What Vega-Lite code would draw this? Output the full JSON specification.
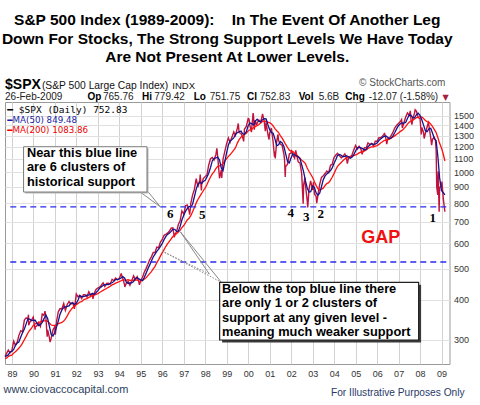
{
"$schema": "https://vega.github.io/schema/vega-lite/v6.json",
"width": 444.5,
"height": 262,
"autosize": {"type": "none"},
"padding": {"left": 5, "top": 102, "right": 30.5, "bottom": 41},
"background": "white",
"title": {"text": ["S&P 500 Index (1989-2009):\u00a0\u00a0\u00a0 In The Event Of Another Leg", "Down For Stocks, The Strong Support Levels We Have Today", "Are Not Present At Lower Levels."], "font": "Liberation Sans", "fontSize": 15.5, "fontWeight": "bold", "lineHeight": 18.5, "anchor": "middle", "frame": "group", "offset": 12, "color": "#000000"},
"config": {"view": {"stroke": "#9a9a9a", "strokeWidth": 1}, "text": {"font": "Liberation Sans"}},
"datasets": {
"px": [
{"d":"1988-09-06","c":266.5},{"d":"1988-09-30","c":271.9},{"d":"1988-10-31","c":279.0},{"d":"1988-11-30","c":273.7},{"d":"1988-12-30","c":277.7},
{"d":"1989-01-31","c":297.5},{"d":"1989-02-28","c":288.9},{"d":"1989-03-31","c":294.9},{"d":"1989-04-28","c":309.6},{"d":"1989-05-31","c":320.5},{"d":"1989-06-30","c":318.0},{"d":"1989-07-31","c":346.1},{"d":"1989-08-31","c":351.5},{"d":"1989-09-29","c":349.2},{"d":"1989-10-09","c":359.8},{"d":"1989-10-13","c":333.6},{"d":"1989-10-31","c":340.4},{"d":"1989-11-30","c":346.0},{"d":"1989-12-29","c":353.4},
{"d":"1990-01-30","c":323.0},{"d":"1990-01-31","c":329.1},{"d":"1990-02-28","c":331.9},{"d":"1990-03-30","c":339.9},{"d":"1990-04-30","c":330.8},{"d":"1990-05-31","c":361.2},{"d":"1990-06-29","c":358.0},{"d":"1990-07-16","c":368.9},{"d":"1990-07-31","c":356.2},{"d":"1990-08-23","c":307.1},{"d":"1990-08-31","c":322.6},{"d":"1990-09-28","c":306.1},{"d":"1990-10-11","c":295.5},{"d":"1990-10-31","c":304.0},{"d":"1990-11-30","c":322.2},{"d":"1990-12-31","c":330.2},
{"d":"1991-01-09","c":311.5},{"d":"1991-01-31","c":343.9},{"d":"1991-02-28","c":367.1},{"d":"1991-03-28","c":375.2},{"d":"1991-04-30","c":375.3},{"d":"1991-05-31","c":389.8},{"d":"1991-06-28","c":371.2},{"d":"1991-07-31","c":387.8},{"d":"1991-08-30","c":395.4},{"d":"1991-09-30","c":387.9},{"d":"1991-10-31","c":392.5},{"d":"1991-11-29","c":375.2},{"d":"1991-12-31","c":417.1},
{"d":"1992-01-31","c":408.8},{"d":"1992-02-28","c":412.7},{"d":"1992-03-31","c":403.7},{"d":"1992-04-30","c":415.0},{"d":"1992-05-29","c":415.4},{"d":"1992-06-30","c":408.1},{"d":"1992-07-31","c":424.2},{"d":"1992-08-31","c":414.0},{"d":"1992-09-30","c":417.8},{"d":"1992-10-09","c":402.7},{"d":"1992-10-30","c":418.7},{"d":"1992-11-30","c":431.4},{"d":"1992-12-31","c":435.7},
{"d":"1993-01-29","c":438.8},{"d":"1993-02-26","c":443.4},{"d":"1993-03-31","c":451.7},{"d":"1993-04-30","c":440.2},{"d":"1993-05-28","c":450.2},{"d":"1993-06-30","c":450.5},{"d":"1993-07-30","c":448.1},{"d":"1993-08-31","c":463.6},{"d":"1993-09-30","c":458.9},{"d":"1993-10-29","c":467.8},{"d":"1993-11-30","c":461.8},{"d":"1993-12-31","c":466.5},
{"d":"1994-01-31","c":481.6},{"d":"1994-02-02","c":482.0},{"d":"1994-02-28","c":467.1},{"d":"1994-03-31","c":445.8},{"d":"1994-04-04","c":438.9},{"d":"1994-04-29","c":450.9},{"d":"1994-05-31","c":456.5},{"d":"1994-06-30","c":444.3},{"d":"1994-07-29","c":458.3},{"d":"1994-08-31","c":475.5},{"d":"1994-09-30","c":462.7},{"d":"1994-10-31","c":472.4},{"d":"1994-11-30","c":453.7},{"d":"1994-12-08","c":445.5},{"d":"1994-12-30","c":459.3},
{"d":"1995-01-31","c":470.4},{"d":"1995-02-28","c":487.4},{"d":"1995-03-31","c":500.7},{"d":"1995-04-28","c":514.7},{"d":"1995-05-31","c":533.4},{"d":"1995-06-30","c":544.8},{"d":"1995-07-31","c":562.1},{"d":"1995-08-31","c":561.9},{"d":"1995-09-29","c":584.4},{"d":"1995-10-31","c":581.5},{"d":"1995-11-30","c":605.4},{"d":"1995-12-29","c":615.9},
{"d":"1996-01-31","c":636.0},{"d":"1996-02-29","c":640.4},{"d":"1996-03-29","c":645.5},{"d":"1996-04-30","c":654.2},{"d":"1996-05-31","c":669.1},{"d":"1996-06-28","c":670.6},{"d":"1996-07-24","c":626.7},{"d":"1996-07-31","c":639.9},{"d":"1996-08-30","c":652.0},{"d":"1996-09-30","c":687.3},{"d":"1996-10-31","c":705.3},{"d":"1996-11-29","c":757.0},{"d":"1996-12-31","c":740.7},
{"d":"1997-01-31","c":786.2},{"d":"1997-02-28","c":790.8},{"d":"1997-03-31","c":757.1},{"d":"1997-04-11","c":737.7},{"d":"1997-04-30","c":801.3},{"d":"1997-05-30","c":848.3},{"d":"1997-06-30","c":885.1},{"d":"1997-07-31","c":954.3},{"d":"1997-08-29","c":899.5},{"d":"1997-09-30","c":947.3},{"d":"1997-10-07","c":983.1},{"d":"1997-10-27","c":877.0},{"d":"1997-10-31","c":914.6},{"d":"1997-11-28","c":955.4},{"d":"1997-12-31","c":970.4},
{"d":"1998-01-30","c":980.3},{"d":"1998-02-27","c":1049.3},{"d":"1998-03-31","c":1101.8},{"d":"1998-04-30","c":1111.8},{"d":"1998-05-29","c":1090.8},{"d":"1998-06-30","c":1133.8},{"d":"1998-07-17","c":1186.8},{"d":"1998-07-31","c":1120.7},{"d":"1998-08-31","c":957.3},{"d":"1998-09-30","c":1017.0},{"d":"1998-10-08","c":959.4},{"d":"1998-10-30","c":1098.7},{"d":"1998-11-30","c":1163.6},{"d":"1998-12-31","c":1229.2},
{"d":"1999-01-29","c":1279.6},{"d":"1999-02-26","c":1238.3},{"d":"1999-03-31","c":1286.4},{"d":"1999-04-30","c":1335.2},{"d":"1999-05-28","c":1301.8},{"d":"1999-06-30","c":1372.7},{"d":"1999-07-16","c":1418.8},{"d":"1999-07-30","c":1328.7},{"d":"1999-08-31","c":1320.4},{"d":"1999-09-30","c":1282.7},{"d":"1999-10-15","c":1247.4},{"d":"1999-10-29","c":1362.9},{"d":"1999-11-30","c":1388.9},{"d":"1999-12-31","c":1469.3},
{"d":"2000-01-14","c":1465.2},{"d":"2000-01-31","c":1394.5},{"d":"2000-02-25","c":1333.4},{"d":"2000-02-29","c":1366.4},{"d":"2000-03-24","c":1527.5},{"d":"2000-03-31","c":1498.6},{"d":"2000-04-14","c":1356.6},{"d":"2000-04-28","c":1452.4},{"d":"2000-05-24","c":1399.1},{"d":"2000-05-31","c":1420.6},{"d":"2000-06-30","c":1454.6},{"d":"2000-07-31","c":1430.8},{"d":"2000-08-31","c":1517.7},{"d":"2000-09-01","c":1520.8},{"d":"2000-09-29","c":1436.5},{"d":"2000-10-18","c":1342.1},{"d":"2000-10-31","c":1429.4},{"d":"2000-11-30","c":1315.2},{"d":"2000-12-20","c":1264.7},{"d":"2000-12-29","c":1320.3},
{"d":"2001-01-30","c":1373.7},{"d":"2001-01-31","c":1366.0},{"d":"2001-02-28","c":1239.9},{"d":"2001-03-22","c":1117.6},{"d":"2001-03-30","c":1160.3},{"d":"2001-04-04","c":1103.3},{"d":"2001-04-30","c":1249.5},{"d":"2001-05-21","c":1312.8},{"d":"2001-05-31","c":1255.8},{"d":"2001-06-29","c":1224.4},{"d":"2001-07-31","c":1211.2},{"d":"2001-08-31","c":1133.6},{"d":"2001-09-10","c":1092.5},{"d":"2001-09-21","c":965.8},{"d":"2001-09-28","c":1040.9},{"d":"2001-10-31","c":1059.8},{"d":"2001-11-30","c":1139.5},{"d":"2001-12-31","c":1148.1},
{"d":"2002-01-04","c":1172.5},{"d":"2002-01-31","c":1130.2},{"d":"2002-02-28","c":1106.7},{"d":"2002-03-19","c":1170.3},{"d":"2002-03-28","c":1147.4},{"d":"2002-04-30","c":1076.9},{"d":"2002-05-31","c":1067.1},{"d":"2002-06-28","c":989.8},{"d":"2002-07-23","c":797.7},{"d":"2002-07-31","c":911.6},{"d":"2002-08-22","c":962.7},{"d":"2002-08-30","c":916.1},{"d":"2002-09-30","c":815.3},{"d":"2002-10-09","c":776.8},{"d":"2002-10-31","c":885.8},{"d":"2002-11-27","c":938.9},{"d":"2002-11-29","c":936.3},{"d":"2002-12-31","c":879.8},
{"d":"2003-01-14","c":931.7},{"d":"2003-01-31","c":855.7},{"d":"2003-02-28","c":841.2},{"d":"2003-03-11","c":800.7},{"d":"2003-03-31","c":848.2},{"d":"2003-04-30","c":916.9},{"d":"2003-05-30","c":963.6},{"d":"2003-06-30","c":974.5},{"d":"2003-07-31","c":990.3},{"d":"2003-08-29","c":1008.0},{"d":"2003-09-30","c":996.0},{"d":"2003-10-31","c":1050.7},{"d":"2003-11-28","c":1058.2},{"d":"2003-12-31","c":1111.9},
{"d":"2004-01-30","c":1131.1},{"d":"2004-02-27","c":1144.9},{"d":"2004-03-31","c":1126.2},{"d":"2004-04-30","c":1107.3},{"d":"2004-05-28","c":1120.7},{"d":"2004-06-30","c":1140.8},{"d":"2004-07-30","c":1101.7},{"d":"2004-08-12","c":1063.2},{"d":"2004-08-31","c":1104.2},{"d":"2004-09-30","c":1114.6},{"d":"2004-10-29","c":1130.2},{"d":"2004-11-30","c":1173.8},{"d":"2004-12-31","c":1211.9},
{"d":"2005-01-31","c":1181.3},{"d":"2005-02-28","c":1203.6},{"d":"2005-03-31","c":1180.6},{"d":"2005-04-20","c":1137.5},{"d":"2005-04-29","c":1156.9},{"d":"2005-05-31","c":1191.5},{"d":"2005-06-30","c":1191.3},{"d":"2005-07-29","c":1234.2},{"d":"2005-08-31","c":1220.3},{"d":"2005-09-30","c":1228.8},{"d":"2005-10-31","c":1207.0},{"d":"2005-11-30","c":1249.5},{"d":"2005-12-30","c":1248.3},
{"d":"2006-01-31","c":1280.1},{"d":"2006-02-28","c":1280.7},{"d":"2006-03-31","c":1294.8},{"d":"2006-04-28","c":1310.6},{"d":"2006-05-05","c":1325.8},{"d":"2006-05-31","c":1270.1},{"d":"2006-06-13","c":1223.7},{"d":"2006-06-30","c":1270.2},{"d":"2006-07-31","c":1276.7},{"d":"2006-08-31","c":1303.8},{"d":"2006-09-29","c":1335.9},{"d":"2006-10-31","c":1377.9},{"d":"2006-11-30","c":1400.6},{"d":"2006-12-29","c":1418.3},
{"d":"2007-01-31","c":1438.2},{"d":"2007-02-20","c":1459.7},{"d":"2007-02-28","c":1406.8},{"d":"2007-03-05","c":1374.1},{"d":"2007-03-30","c":1420.9},{"d":"2007-04-30","c":1482.4},{"d":"2007-05-31","c":1530.6},{"d":"2007-06-29","c":1503.4},{"d":"2007-07-19","c":1553.1},{"d":"2007-07-31","c":1455.3},{"d":"2007-08-15","c":1406.7},{"d":"2007-08-31","c":1474.0},{"d":"2007-09-28","c":1526.8},{"d":"2007-10-09","c":1565.2},{"d":"2007-10-31","c":1549.4},{"d":"2007-11-30","c":1481.1},{"d":"2007-12-31","c":1468.4},
{"d":"2008-01-22","c":1310.5},{"d":"2008-01-31","c":1378.6},{"d":"2008-02-29","c":1330.6},{"d":"2008-03-10","c":1273.4},{"d":"2008-03-31","c":1322.7},{"d":"2008-04-30","c":1385.6},{"d":"2008-05-19","c":1426.6},{"d":"2008-05-30","c":1400.4},{"d":"2008-06-30","c":1280.0},{"d":"2008-07-15","c":1214.9},{"d":"2008-07-31","c":1267.4},{"d":"2008-08-29","c":1282.8},{"d":"2008-09-19","c":1255.1},{"d":"2008-09-30","c":1166.4},{"d":"2008-10-10","c":899.2},{"d":"2008-10-27","c":848.9},{"d":"2008-10-31","c":968.8},{"d":"2008-11-04","c":1005.8},{"d":"2008-11-20","c":752.4},{"d":"2008-11-28","c":896.2},{"d":"2008-12-31","c":903.3},
{"d":"2009-01-06","c":934.7},{"d":"2009-01-30","c":825.9},{"d":"2009-02-26","c":752.8}
],
"ma": [
{"d":"1988-09-06","m50":266.0,"m200":262.5},{"d":"1988-09-30","m50":267.6,"m200":263.3},{"d":"1988-10-31","m50":269.5,"m200":266.5},{"d":"1988-11-30","m50":275.2,"m200":268.2},{"d":"1988-12-30","m50":276.5,"m200":269.2},
{"d":"1989-01-31","m50":280.3,"m200":273.0},{"d":"1989-02-28","m50":288.3,"m200":275.8},{"d":"1989-03-31","m50":293.4,"m200":279.1},{"d":"1989-04-28","m50":295.7,"m200":282.7},{"d":"1989-05-31","m50":306.4,"m200":287.5},{"d":"1989-06-30","m50":315.9,"m200":293.2},{"d":"1989-07-31","m50":324.8,"m200":300.6},{"d":"1989-08-31","m50":336.7,"m200":307.8},{"d":"1989-09-29","m50":349.0,"m200":315.4},{"d":"1989-10-31","m50":348.2,"m200":321.7},{"d":"1989-11-30","m50":344.9,"m200":326.5},{"d":"1989-12-29","m50":345.5,"m200":333.0},
{"d":"1990-01-31","m50":345.6,"m200":336.4},{"d":"1990-02-28","m50":338.8,"m200":338.6},{"d":"1990-03-30","m50":332.5,"m200":340.6},{"d":"1990-04-30","m50":335.0,"m200":341.8},{"d":"1990-05-31","m50":340.5,"m200":343.3},{"d":"1990-06-29","m50":349.1,"m200":344.0},{"d":"1990-07-31","m50":358.8,"m200":344.7},{"d":"1990-08-31","m50":349.9,"m200":342.9},{"d":"1990-09-28","m50":331.8,"m200":338.9},{"d":"1990-10-31","m50":311.8,"m200":334.0},{"d":"1990-11-30","m50":308.6,"m200":333.3},{"d":"1990-12-31","m50":317.0,"m200":333.1},
{"d":"1991-01-31","m50":330.1,"m200":333.5},{"d":"1991-02-28","m50":343.6,"m200":337.2},{"d":"1991-03-28","m50":360.1,"m200":338.6},{"d":"1991-04-30","m50":372.2,"m200":340.3},{"d":"1991-05-31","m50":378.3,"m200":343.6},{"d":"1991-06-28","m50":380.5,"m200":348.5},{"d":"1991-07-31","m50":381.6,"m200":356.7},{"d":"1991-08-30","m50":383.2,"m200":365.8},{"d":"1991-09-30","m50":391.0,"m200":372.4},{"d":"1991-10-31","m50":391.7,"m200":378.6},{"d":"1991-11-29","m50":387.2,"m200":381.7},{"d":"1991-12-31","m50":390.4,"m200":386.7},
{"d":"1992-01-31","m50":399.7,"m200":390.1},{"d":"1992-02-28","m50":412.7,"m200":393.8},{"d":"1992-03-31","m50":409.4,"m200":395.2},{"d":"1992-04-30","m50":409.4,"m200":399.6},{"d":"1992-05-29","m50":410.8,"m200":402.4},{"d":"1992-06-30","m50":413.7,"m200":403.6},{"d":"1992-07-31","m50":414.2,"m200":407.3},{"d":"1992-08-31","m50":416.0,"m200":409.4},{"d":"1992-09-30","m50":418.6,"m200":413.7},{"d":"1992-10-30","m50":416.6,"m200":413.8},{"d":"1992-11-30","m50":421.0,"m200":416.1},{"d":"1992-12-31","m50":427.5,"m200":418.4},
{"d":"1993-01-29","m50":434.8,"m200":421.9},{"d":"1993-02-26","m50":438.6,"m200":424.8},{"d":"1993-03-31","m50":443.4,"m200":428.4},{"d":"1993-04-30","m50":446.2,"m200":431.6},{"d":"1993-05-28","m50":446.6,"m200":434.2},{"d":"1993-06-30","m50":446.5,"m200":437.8},{"d":"1993-07-30","m50":449.9,"m200":440.9},{"d":"1993-08-31","m50":452.3,"m200":445.4},{"d":"1993-09-30","m50":456.8,"m200":448.1},{"d":"1993-10-29","m50":462.5,"m200":451.3},{"d":"1993-11-30","m50":463.2,"m200":453.6},{"d":"1993-12-31","m50":465.0,"m200":455.9},
{"d":"1994-01-31","m50":467.9,"m200":458.9},{"d":"1994-02-28","m50":472.9,"m200":461.6},{"d":"1994-03-31","m50":468.1,"m200":461.2},{"d":"1994-04-29","m50":454.9,"m200":461.2},{"d":"1994-05-31","m50":450.1,"m200":462.1},{"d":"1994-06-30","m50":451.9,"m200":460.1},{"d":"1994-07-29","m50":451.8,"m200":460.1},{"d":"1994-08-31","m50":456.6,"m200":460.8},{"d":"1994-09-30","m50":466.4,"m200":460.9},{"d":"1994-10-31","m50":469.5,"m200":461.5},{"d":"1994-11-30","m50":464.9,"m200":458.7},{"d":"1994-12-30","m50":461.9,"m200":457.9},
{"d":"1995-01-31","m50":459.5,"m200":460.4},{"d":"1995-02-28","m50":469.8,"m200":464.1},{"d":"1995-03-31","m50":483.8,"m200":468.5},{"d":"1995-04-28","m50":498.6,"m200":475.5},{"d":"1995-05-31","m50":513.3,"m200":483.0},{"d":"1995-06-30","m50":528.8,"m200":490.0},{"d":"1995-07-31","m50":544.1,"m200":499.9},{"d":"1995-08-31","m50":555.6,"m200":508.8},{"d":"1995-09-29","m50":566.7,"m200":521.9},{"d":"1995-10-31","m50":575.4,"m200":534.1},{"d":"1995-11-30","m50":587.6,"m200":547.6},{"d":"1995-12-29","m50":598.6,"m200":560.5},
{"d":"1996-01-31","m50":616.2,"m200":574.0},{"d":"1996-02-29","m50":629.4,"m200":586.6},{"d":"1996-03-29","m50":639.8,"m200":597.8},{"d":"1996-04-30","m50":645.4,"m200":608.7},{"d":"1996-05-31","m50":654.0,"m200":619.4},{"d":"1996-06-28","m50":663.8,"m200":630.3},{"d":"1996-07-31","m50":663.6,"m200":635.9},{"d":"1996-08-30","m50":653.9,"m200":642.9},{"d":"1996-09-30","m50":654.8,"m200":651.1},{"d":"1996-10-31","m50":677.8,"m200":660.0},{"d":"1996-11-29","m50":709.3,"m200":672.1},{"d":"1996-12-31","m50":734.2,"m200":682.2},
{"d":"1997-01-31","m50":756.3,"m200":696.2},{"d":"1997-02-28","m50":770.1,"m200":709.9},{"d":"1997-03-31","m50":782.1,"m200":718.7},{"d":"1997-04-30","m50":778.9,"m200":731.8},{"d":"1997-05-30","m50":794.5,"m200":752.6},{"d":"1997-06-30","m50":838.4,"m200":775.9},{"d":"1997-07-31","m50":885.7,"m200":802.6},{"d":"1997-08-29","m50":916.9,"m200":822.0},{"d":"1997-09-30","m50":930.0,"m200":841.1},{"d":"1997-10-31","m50":922.6,"m200":858.5},{"d":"1997-11-28","m50":935.4,"m200":875.4},{"d":"1997-12-31","m50":943.2,"m200":893.3},
{"d":"1998-01-30","m50":966.9,"m200":915.7},{"d":"1998-02-27","m50":991.0,"m200":940.5},{"d":"1998-03-31","m50":1034.4,"m200":965.8},{"d":"1998-04-30","m50":1084.2,"m200":988.5},{"d":"1998-05-29","m50":1103.7,"m200":1002.1},{"d":"1998-06-30","m50":1107.6,"m200":1025.6},{"d":"1998-07-31","m50":1114.9,"m200":1042.9},{"d":"1998-08-31","m50":1091.6,"m200":1047.2},{"d":"1998-09-30","m50":1031.0,"m200":1053.3},{"d":"1998-10-30","m50":1011.6,"m200":1066.2},{"d":"1998-11-30","m50":1081.6,"m200":1084.5},{"d":"1998-12-31","m50":1152.9,"m200":1102.5},
{"d":"1999-01-29","m50":1215.1,"m200":1120.3},{"d":"1999-02-26","m50":1252.1,"m200":1132.9},{"d":"1999-03-31","m50":1263.8,"m200":1152.5},{"d":"1999-04-30","m50":1278.5,"m200":1172.6},{"d":"1999-05-28","m50":1310.0,"m200":1190.7},{"d":"1999-06-30","m50":1329.1,"m200":1232.3},{"d":"1999-07-30","m50":1336.9,"m200":1263.4},{"d":"1999-08-31","m50":1343.5,"m200":1285.6},{"d":"1999-09-30","m50":1315.6,"m200":1297.5},{"d":"1999-10-29","m50":1313.6,"m200":1310.9},{"d":"1999-11-30","m50":1338.2,"m200":1321.8},{"d":"1999-12-31","m50":1395.9,"m200":1344.9},
{"d":"2000-01-31","m50":1423.6,"m200":1355.7},{"d":"2000-02-29","m50":1416.7,"m200":1358.8},{"d":"2000-03-31","m50":1404.5,"m200":1378.5},{"d":"2000-04-28","m50":1439.4,"m200":1386.5},{"d":"2000-05-31","m50":1463.1,"m200":1395.7},{"d":"2000-06-30","m50":1439.6,"m200":1409.1},{"d":"2000-07-31","m50":1436.9,"m200":1423.9},{"d":"2000-08-31","m50":1457.8,"m200":1439.4},{"d":"2000-09-29","m50":1468.2,"m200":1444.1},{"d":"2000-10-31","m50":1465.5,"m200":1440.2},{"d":"2000-11-30","m50":1408.3,"m200":1432.2},{"d":"2000-12-29","m50":1359.1,"m200":1427.6},
{"d":"2001-01-31","m50":1327.9,"m200":1414.4},{"d":"2001-02-28","m50":1322.6,"m200":1393.1},{"d":"2001-03-30","m50":1270.6,"m200":1367.1},{"d":"2001-04-30","m50":1208.7,"m200":1346.6},{"d":"2001-05-31","m50":1217.4,"m200":1329.1},{"d":"2001-06-29","m50":1246.9,"m200":1299.7},{"d":"2001-07-31","m50":1233.4,"m200":1277.2},{"d":"2001-08-31","m50":1200.0,"m200":1247.6},{"d":"2001-09-28","m50":1143.4,"m200":1220.2},{"d":"2001-10-31","m50":1079.6,"m200":1194.1},{"d":"2001-11-30","m50":1069.3,"m200":1171.5},{"d":"2001-12-31","m50":1111.4,"m200":1162.3},
{"d":"2002-01-31","m50":1141.1,"m200":1159.3},{"d":"2002-02-28","m50":1132.0,"m200":1145.0},{"d":"2002-03-28","m50":1124.0,"m200":1134.2},{"d":"2002-04-30","m50":1117.4,"m200":1119.4},{"d":"2002-05-31","m50":1101.3,"m200":1105.0},{"d":"2002-06-28","m50":1054.7,"m200":1090.6},{"d":"2002-07-31","m50":1002.5,"m200":1077.7},{"d":"2002-08-30","m50":941.9,"m200":1063.3},{"d":"2002-09-30","m50":893.4,"m200":1030.9},{"d":"2002-10-31","m50":867.8,"m200":1004.7},{"d":"2002-11-29","m50":869.9,"m200":985.3},{"d":"2002-12-31","m50":905.6,"m200":962.6},
{"d":"2003-01-31","m50":896.0,"m200":933.4},{"d":"2003-02-28","m50":861.7,"m200":909.9},{"d":"2003-03-31","m50":848.1,"m200":888.0},{"d":"2003-04-30","m50":859.9,"m200":880.7},{"d":"2003-05-30","m50":900.9,"m200":885.9},{"d":"2003-06-30","m50":948.4,"m200":891.7},{"d":"2003-07-31","m50":973.7,"m200":909.2},{"d":"2003-08-29","m50":988.1,"m200":921.5},{"d":"2003-09-30","m50":998.9,"m200":927.4},{"d":"2003-10-31","m50":1011.9,"m200":944.5},{"d":"2003-11-28","m50":1031.8,"m200":964.8},{"d":"2003-12-31","m50":1066.6,"m200":991.8},
{"d":"2004-01-30","m50":1095.8,"m200":1020.1},{"d":"2004-02-27","m50":1126.8,"m200":1042.9},{"d":"2004-03-31","m50":1135.8,"m200":1059.2},{"d":"2004-04-30","m50":1129.3,"m200":1072.5},{"d":"2004-05-28","m50":1117.2,"m200":1085.5},{"d":"2004-06-30","m50":1119.9,"m200":1098.8},{"d":"2004-07-30","m50":1125.1,"m200":1109.4},{"d":"2004-08-31","m50":1116.9,"m200":1114.7},{"d":"2004-09-30","m50":1105.4,"m200":1120.3},{"d":"2004-10-29","m50":1114.0,"m200":1122.2},{"d":"2004-11-30","m50":1133.4,"m200":1126.4},{"d":"2004-12-31","m50":1165.4,"m200":1133.1},
{"d":"2005-01-31","m50":1191.2,"m200":1138.7},{"d":"2005-02-28","m50":1197.4,"m200":1148.3},{"d":"2005-03-31","m50":1190.5,"m200":1154.3},{"d":"2005-04-29","m50":1184.3,"m200":1155.9},{"d":"2005-05-31","m50":1173.0,"m200":1164.9},{"d":"2005-06-30","m50":1178.5,"m200":1173.6},{"d":"2005-07-29","m50":1200.3,"m200":1185.5},{"d":"2005-08-31","m50":1215.2,"m200":1194.5},{"d":"2005-09-30","m50":1227.3,"m200":1200.0},{"d":"2005-10-31","m50":1221.1,"m200":1199.6},{"d":"2005-11-30","m50":1224.0,"m200":1206.4},{"d":"2005-12-30","m50":1233.3,"m200":1210.8},
{"d":"2006-01-31","m50":1255.4,"m200":1220.8},{"d":"2006-02-28","m50":1268.3,"m200":1233.2},{"d":"2006-03-31","m50":1283.4,"m200":1243.5},{"d":"2006-04-28","m50":1292.8,"m200":1255.4},{"d":"2006-05-31","m50":1296.2,"m200":1259.0},{"d":"2006-06-30","m50":1285.3,"m200":1264.0},{"d":"2006-07-31","m50":1271.5,"m200":1268.8},{"d":"2006-08-31","m50":1279.9,"m200":1278.5},{"d":"2006-09-29","m50":1300.3,"m200":1287.1},{"d":"2006-10-31","m50":1332.6,"m200":1300.1},{"d":"2006-11-30","m50":1366.9,"m200":1312.1},{"d":"2006-12-29","m50":1395.8,"m200":1325.9},
{"d":"2007-01-31","m50":1415.8,"m200":1340.2},{"d":"2007-02-28","m50":1424.2,"m200":1349.9},{"d":"2007-03-30","m50":1421.5,"m200":1364.9},{"d":"2007-04-30","m50":1428.4,"m200":1386.2},{"d":"2007-05-31","m50":1469.4,"m200":1411.5},{"d":"2007-06-29","m50":1506.9,"m200":1431.5},{"d":"2007-07-31","m50":1503.6,"m200":1443.4},{"d":"2007-08-31","m50":1477.3,"m200":1453.1},{"d":"2007-09-28","m50":1478.0,"m200":1465.7},{"d":"2007-10-31","m50":1511.7,"m200":1478.8},{"d":"2007-11-30","m50":1526.7,"m200":1483.1},{"d":"2007-12-31","m50":1504.1,"m200":1489.2},
{"d":"2008-01-31","m50":1454.5,"m200":1485.0},{"d":"2008-02-29","m50":1402.3,"m200":1469.8},{"d":"2008-03-31","m50":1346.9,"m200":1449.0},{"d":"2008-04-30","m50":1338.8,"m200":1437.3},{"d":"2008-05-30","m50":1365.1,"m200":1431.8},{"d":"2008-06-30","m50":1369.8,"m200":1412.4},{"d":"2008-07-31","m50":1322.5,"m200":1386.4},{"d":"2008-08-29","m50":1275.3,"m200":1359.8},{"d":"2008-09-30","m50":1252.8,"m200":1328.3},{"d":"2008-10-31","m50":1110.0,"m200":1278.3},{"d":"2008-11-28","m50":960.0,"m200":1230.1},{"d":"2008-12-31","m50":876.0,"m200":1187.4},
{"d":"2009-01-30","m50":864.0,"m200":1137.7},{"d":"2009-02-26","m50":849.5,"m200":1083.9}
],
"levels": [{"lv":780},{"lv":525}],
"rects": [
{"k":"sh1","d0":"1989-08-13","d1":"1995-05-12","v0":858.1,"v1":1187.7},
{"k":"b1","d0":"1989-07-18","d1":"1995-04-16","v0":867.4,"v1":1200.6},
{"k":"sh2","d0":"1998-10-14","d1":"2008-01-18","v0":294.7,"v1":445.7},
{"k":"b2","d0":"1998-09-02","d1":"2007-12-07","v0":300,"v1":453.8}
],
"segs": [
{"k":"s","d0":"1994-12-23","v0":867.4,"d1":"1995-11-28","v1":780},
{"k":"s","d0":"1995-05-08","v0":867.4,"d1":"1995-11-28","v1":780},
{"k":"s","d0":"1996-11-02","v0":652.4,"d1":"1998-03-11","v1":481.6},
{"k":"s","d0":"1996-11-02","v0":652.4,"d1":"1998-10-01","v1":454},
{"k":"o","d0":"1995-12-27","v0":568,"d1":"1998-03-11","v1":481.6},
{"k":"o","d0":"1995-12-27","v0":568,"d1":"1998-10-01","v1":454}
],
"notes": [
{"k":"bt","d":"1989-09-14","v":1117,"t":"Near this blue line"},
{"k":"bt","d":"1989-09-14","v":1008,"t":"are 6 clusters of"},
{"k":"bt","d":"1989-09-14","v":907.5,"t":"historical support"},
{"k":"bt","d":"1998-10-13","v":419.4,"t":"Below the top blue line there"},
{"k":"bt","d":"1998-10-13","v":378.8,"t":"are only 1 or 2 clusters of"},
{"k":"bt","d":"1998-10-13","v":342.1,"t":"support at any given level -"},
{"k":"bt","d":"1998-10-13","v":308.7,"t":"meaning much weaker support"},
{"k":"num","d":"1996-05-16","v":721.3,"t":"6"},
{"k":"num","d":"1997-11-11","v":714.7,"t":"5"},
{"k":"num","d":"2001-12-25","v":726.5,"t":"4"},
{"k":"num","d":"2002-09-15","v":704.5,"t":"3"},
{"k":"num","d":"2003-05-19","v":718.3,"t":"2"},
{"k":"num","d":"2008-08-05","v":701,"t":"1"},
{"k":"gap","d":"2006-03-05","v":600.3,"t":"GAP"},
{"k":"l1","d":"1988-10-15","v":1534,"t":"━ $SPX (Daily) 752.83"},
{"k":"l2","d":"1988-10-15","v":1428,"t":"━MA(50) 849.48"},
{"k":"l3","d":"1988-10-15","v":1329,"t":"━MA(200) 1083.86"},
{"k":"h1","d":"1988-09-06","v":1820,"t":"$SPX"},
{"k":"h2","d":"1990-05-25","v":1820,"t":"(S&P 500 Large Cap Index)"},
{"k":"h3","d":"1996-06-19","v":1820,"t":"INDX"},
{"k":"sc","d":"2009-03-06","v":1855,"t":"© StockCharts.com"},
{"k":"dt","d":"1988-09-06","v":1684,"t":"26-Feb-2009"},
{"k":"lab","d":"1992-07-10","v":1684,"t":"Op"},
{"k":"lab","d":"1995-01-21","v":1684,"t":"Hi"},
{"k":"lab","d":"1997-06-17","v":1684,"t":"Lo"},
{"k":"lab","d":"1999-12-12","v":1684,"t":"Cl"},
{"k":"lab","d":"2002-05-08","v":1684,"t":"Vol"},
{"k":"lab","d":"2004-07-09","v":1684,"t":"Chg"},
{"k":"val","d":"1993-03-29","v":1684,"t":"765.76"},
{"k":"val","d":"1995-08-18","v":1684,"t":"779.42"},
{"k":"val","d":"1998-03-16","v":1684,"t":"751.75"},
{"k":"val","d":"2000-07-13","v":1684,"t":"752.83"},
{"k":"val","d":"2003-04-12","v":1684,"t":"5.6B"},
{"k":"val","d":"2005-08-10","v":1684,"t":"-12.07 (-1.58%)"},
{"k":"tri","d":"2009-03-08","v":1684,"t":"▼"},
{"k":"fl","d":"1988-08-12","v":204.7,"t":"www.ciovaccocapital.com"},
{"k":"fr","d":"2006-12-18","v":200.8,"t":"For Illustrative Purposes Only"}
]
},
"layer": [
{"data": {"name": "px"}, "mark": {"type": "line", "color": "#c0143c", "strokeWidth": 1.4},
 "encoding": {
  "x": {"field": "d", "type": "temporal", "title": null,
   "scale": {"domain": [{"year": 1988, "month": 9, "date": 5}, {"year": 2009, "month": 5, "date": 15}]},
   "axis": {"format": "%y", "tickCount": {"interval": "year", "step": 1}, "grid": true, "gridColor": "#d2d2d2", "domain": false, "ticks": false, "labelPadding": 5, "labelFont": "Liberation Sans", "labelFontSize": 9, "labelColor": "#333333", "labelFlush": false, "labelOverlap": false}},
  "y": {"field": "c", "type": "quantitative", "title": null,
   "scale": {"type": "log", "domain": [252.5, 1655], "nice": false},
   "axis": {"orient": "right", "values": [300, 400, 500, 600, 700, 800, 900, 1000, 1100, 1200, 1300, 1400, 1500], "format": "d", "grid": true, "gridColor": "#e0e0e0", "domain": false, "ticks": false, "labelPadding": 4, "labelFont": "Liberation Sans", "labelFontSize": 9, "labelColor": "#333333"}}
 }},
{"data": {"name": "ma"}, "mark": {"type": "line", "color": "#ff1010", "strokeWidth": 1.3},
 "encoding": {"x": {"field": "d", "type": "temporal", "title": null}, "y": {"field": "m200", "type": "quantitative", "title": null}}},
{"data": {"name": "ma"}, "mark": {"type": "line", "color": "#14148c", "strokeWidth": 1.3},
 "encoding": {"x": {"field": "d", "type": "temporal", "title": null}, "y": {"field": "m50", "type": "quantitative", "title": null}}},
{"data": {"name": "levels"}, "mark": {"type": "rule", "color": "#2a2aee", "strokeWidth": 1.3, "strokeDash": [6, 4]},
 "encoding": {"x": {"datum": {"year": 1988, "month": 12, "date": 4}, "type": "temporal"}, "x2": {"datum": {"year": 2009, "month": 5, "date": 15}}, "y": {"field": "lv", "type": "quantitative", "title": null}}},
{"data": {"name": "segs"}, "transform": [{"filter": "datum.k == 's'"}], "mark": {"type": "rule", "color": "#8a8a8a", "strokeWidth": 1},
 "encoding": {"x": {"field": "d0", "type": "temporal", "title": null}, "x2": {"field": "d1"}, "y": {"field": "v0", "type": "quantitative", "title": null}, "y2": {"field": "v1"}}},
{"data": {"name": "segs"}, "transform": [{"filter": "datum.k == 'o'"}], "mark": {"type": "rule", "color": "#8a8a8a", "strokeWidth": 1, "strokeDash": [1.5, 1.5]},
 "encoding": {"x": {"field": "d0", "type": "temporal", "title": null}, "x2": {"field": "d1"}, "y": {"field": "v0", "type": "quantitative", "title": null}, "y2": {"field": "v1"}}},
{"data": {"name": "rects"}, "transform": [{"filter": "datum.k == 'sh1'"}], "mark": {"type": "rect", "fill": "#b8b8b8"},
 "encoding": {"x": {"field": "d0", "type": "temporal", "title": null}, "x2": {"field": "d1"}, "y": {"field": "v0", "type": "quantitative", "title": null}, "y2": {"field": "v1"}}},
{"data": {"name": "rects"}, "transform": [{"filter": "datum.k == 'sh2'"}], "mark": {"type": "rect", "fill": "#3a3a3a"},
 "encoding": {"x": {"field": "d0", "type": "temporal", "title": null}, "x2": {"field": "d1"}, "y": {"field": "v0", "type": "quantitative", "title": null}, "y2": {"field": "v1"}}},
{"data": {"name": "rects"}, "transform": [{"filter": "datum.k == 'b1'"}], "mark": {"type": "rect", "fill": "#ffffff", "stroke": "#7a7a7a", "strokeWidth": 1},
 "encoding": {"x": {"field": "d0", "type": "temporal", "title": null}, "x2": {"field": "d1"}, "y": {"field": "v0", "type": "quantitative", "title": null}, "y2": {"field": "v1"}}},
{"data": {"name": "rects"}, "transform": [{"filter": "datum.k == 'b2'"}], "mark": {"type": "rect", "fill": "#ffffff", "stroke": "#222222", "strokeWidth": 1.2},
 "encoding": {"x": {"field": "d0", "type": "temporal", "title": null}, "x2": {"field": "d1"}, "y": {"field": "v0", "type": "quantitative", "title": null}, "y2": {"field": "v1"}}},
{"data": {"name": "notes"}, "transform": [{"filter": "datum.k == 'bt'"}], "mark": {"type": "text", "align": "left", "baseline": "alphabetic", "font": "Liberation Sans", "fontSize": 12.8, "fontWeight": "bold", "color": "#000000"},
 "encoding": {"x": {"field": "d", "type": "temporal", "title": null}, "y": {"field": "v", "type": "quantitative", "title": null}, "text": {"field": "t"}}},
{"data": {"name": "notes"}, "transform": [{"filter": "datum.k == 'num'"}], "mark": {"type": "text", "align": "center", "baseline": "alphabetic", "font": "Liberation Serif", "fontSize": 13, "fontWeight": "bold", "color": "#000000"},
 "encoding": {"x": {"field": "d", "type": "temporal", "title": null}, "y": {"field": "v", "type": "quantitative", "title": null}, "text": {"field": "t"}}},
{"data": {"name": "notes"}, "transform": [{"filter": "datum.k == 'gap'"}], "mark": {"type": "text", "align": "center", "baseline": "alphabetic", "font": "Liberation Sans", "fontSize": 18, "fontWeight": "bold", "color": "#f01010"},
 "encoding": {"x": {"field": "d", "type": "temporal", "title": null}, "y": {"field": "v", "type": "quantitative", "title": null}, "text": {"field": "t"}}},
{"data": {"name": "notes"}, "transform": [{"filter": "datum.k == 'l1'"}], "mark": {"type": "text", "align": "left", "baseline": "alphabetic", "font": "DejaVu Sans Mono", "fontSize": 9.5, "color": "#000000"},
 "encoding": {"x": {"field": "d", "type": "temporal", "title": null}, "y": {"field": "v", "type": "quantitative", "title": null}, "text": {"field": "t"}}},
{"data": {"name": "notes"}, "transform": [{"filter": "datum.k == 'l2'"}], "mark": {"type": "text", "align": "left", "baseline": "alphabetic", "font": "DejaVu Sans", "fontSize": 8.7, "color": "#1c1ca0"},
 "encoding": {"x": {"field": "d", "type": "temporal", "title": null}, "y": {"field": "v", "type": "quantitative", "title": null}, "text": {"field": "t"}}},
{"data": {"name": "notes"}, "transform": [{"filter": "datum.k == 'l3'"}], "mark": {"type": "text", "align": "left", "baseline": "alphabetic", "font": "DejaVu Sans", "fontSize": 8.7, "color": "#ee0000"},
 "encoding": {"x": {"field": "d", "type": "temporal", "title": null}, "y": {"field": "v", "type": "quantitative", "title": null}, "text": {"field": "t"}}},
{"data": {"name": "notes"}, "transform": [{"filter": "datum.k == 'h1'"}], "mark": {"type": "text", "align": "left", "baseline": "alphabetic", "font": "Liberation Sans", "fontSize": 14, "fontWeight": "bold", "color": "#000000"},
 "encoding": {"x": {"field": "d", "type": "temporal", "title": null}, "y": {"field": "v", "type": "quantitative", "title": null}, "text": {"field": "t"}}},
{"data": {"name": "notes"}, "transform": [{"filter": "datum.k == 'h2'"}], "mark": {"type": "text", "align": "left", "baseline": "alphabetic", "font": "Liberation Sans", "fontSize": 10.3, "color": "#111111"},
 "encoding": {"x": {"field": "d", "type": "temporal", "title": null}, "y": {"field": "v", "type": "quantitative", "title": null}, "text": {"field": "t"}}},
{"data": {"name": "notes"}, "transform": [{"filter": "datum.k == 'h3'"}], "mark": {"type": "text", "align": "left", "baseline": "alphabetic", "font": "Liberation Sans", "fontSize": 9.5, "color": "#111111"},
 "encoding": {"x": {"field": "d", "type": "temporal", "title": null}, "y": {"field": "v", "type": "quantitative", "title": null}, "text": {"field": "t"}}},
{"data": {"name": "notes"}, "transform": [{"filter": "datum.k == 'sc'"}], "mark": {"type": "text", "align": "right", "baseline": "alphabetic", "font": "Liberation Sans", "fontSize": 10, "color": "#555555"},
 "encoding": {"x": {"field": "d", "type": "temporal", "title": null}, "y": {"field": "v", "type": "quantitative", "title": null}, "text": {"field": "t"}}},
{"data": {"name": "notes"}, "transform": [{"filter": "datum.k == 'dt' || datum.k == 'val'"}], "mark": {"type": "text", "align": "left", "baseline": "alphabetic", "font": "Liberation Sans", "fontSize": 10, "color": "#222222"},
 "encoding": {"x": {"field": "d", "type": "temporal", "title": null}, "y": {"field": "v", "type": "quantitative", "title": null}, "text": {"field": "t"}}},
{"data": {"name": "notes"}, "transform": [{"filter": "datum.k == 'lab'"}], "mark": {"type": "text", "align": "left", "baseline": "alphabetic", "font": "Liberation Sans", "fontSize": 10, "fontWeight": "bold", "color": "#000000"},
 "encoding": {"x": {"field": "d", "type": "temporal", "title": null}, "y": {"field": "v", "type": "quantitative", "title": null}, "text": {"field": "t"}}},
{"data": {"name": "notes"}, "transform": [{"filter": "datum.k == 'tri'"}], "mark": {"type": "text", "align": "center", "baseline": "alphabetic", "font": "DejaVu Sans", "fontSize": 8, "color": "#a3213e"},
 "encoding": {"x": {"field": "d", "type": "temporal", "title": null}, "y": {"field": "v", "type": "quantitative", "title": null}, "text": {"field": "t"}}},
{"data": {"name": "notes"}, "transform": [{"filter": "datum.k == 'fl'"}], "mark": {"type": "text", "align": "left", "baseline": "alphabetic", "font": "Liberation Sans", "fontSize": 11, "color": "#2c3e5c"},
 "encoding": {"x": {"field": "d", "type": "temporal", "title": null}, "y": {"field": "v", "type": "quantitative", "title": null}, "text": {"field": "t"}}},
{"data": {"name": "notes"}, "transform": [{"filter": "datum.k == 'fr'"}], "mark": {"type": "text", "align": "center", "baseline": "alphabetic", "font": "Liberation Sans", "fontSize": 10.2, "color": "#2a3a6a"},
 "encoding": {"x": {"field": "d", "type": "temporal", "title": null}, "y": {"field": "v", "type": "quantitative", "title": null}, "text": {"field": "t"}}}
]
}
